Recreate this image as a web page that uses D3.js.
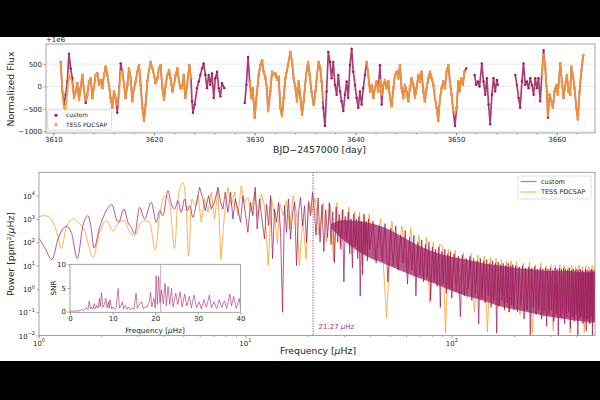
<!DOCTYPE html>
<html>
<head>
<meta charset="utf-8">
<script src="https://cdn.jsdelivr.net/npm/d3@7/dist/d3.min.js"></script>
<style>
	body { margin: 0; background: #000; }
	svg { display: block; font-family: "DejaVu Sans", sans-serif; }
</style>
</head>
<body>
<svg width="600" height="400"></svg>
<script>
// light curve, custom reduction (BJD-2457000, flux - 1e6 in ppm)
var lcTime = [
	3610.73,3610.89,3611.06,3611.22,3611.39,3611.55,3611.72,3611.88,3612.05,3612.22,3612.38,3612.55,3612.71,3612.88,3613.04,3613.21,3613.37,3613.54,3613.71,3613.87,
	3614.04,3614.20,3614.37,3614.53,3614.70,3614.86,3615.03,3615.20,3615.36,3615.53,3615.69,3615.86,3616.02,3616.19,3616.35,3616.52,3616.69,3616.85,3617.02,3617.18,
	3617.35,3617.51,3617.68,3617.84,3618.01,3618.18,3618.34,3618.51,3618.67,3618.84,3619.00,3619.17,3619.33,3619.50,3619.67,3619.83,3620.00,3620.16,3620.33,3620.49,
	3620.66,3620.82,3620.99,3621.16,3621.32,3621.49,3621.65,3621.82,3621.98,3622.15,3622.31,3622.48,3622.65,3622.78,3622.95,3623.11,3623.28,3623.51,3623.67,3623.77,
	3623.87,3624.04,3624.27,3624.44,3624.60,3624.77,3624.93,3625.10,3625.26,3625.43,3625.59,3625.76,3625.93,3626.09,3626.26,3626.42,3626.59,3626.75,3626.99,
	3629.01,3629.17,3629.34,3629.50,3629.67,3629.80,3630.00,3630.23,3630.40,3630.56,3630.73,3630.89,3631.06,3631.22,3631.32,3631.55,3631.72,3631.89,3632.05,3632.22,
	3632.38,3632.55,3632.71,3632.88,3633.04,3633.31,3633.54,3633.71,3633.87,3634.04,3634.20,3634.37,3634.54,3634.70,3634.87,3635.10,3635.30,3635.46,3635.63,3635.86,
	3636.03,3636.19,3636.36,3636.52,
	3636.65,3636.81,3636.98,3637.14,3637.31,3637.47,3637.64,3637.80,3637.97,3638.14,3638.30,3638.47,3638.63,3638.80,3638.96,3639.13,3639.29,3639.46,3639.63,3639.79,
	3639.96,3640.12,3640.29,3640.45,3640.62,3640.78,3640.95,3641.12,3641.28,3641.45,3641.61,3641.78,3641.94,3642.11,3642.27,3642.44,3642.61,3642.77,3642.94,3643.10,
	3643.27,3643.43,3643.60,3643.77,3643.93,3644.10,3644.26,3644.43,3644.59,3644.76,3644.92,3645.09,3645.25,3645.42,3645.59,3645.75,3645.92,3646.08,3646.25,3646.41,
	3646.58,3646.74,3646.91,3647.08,3647.24,3647.41,3647.57,3647.74,3647.90,3648.07,3648.23,3648.40,3648.57,3648.73,3648.90,3649.06,3649.23,3649.39,3649.56,3649.72,
	3649.89,3650.06,3650.22,3650.35,3650.51,3650.68,3650.84,3651.01,
	3651.84,3652.00,3652.17,3652.33,3652.56,3652.73,3652.90,3653.06,3653.23,3653.39,3653.56,3653.72,3653.89,3654.05,3654.15,
	3655.88,3656.04,3656.21,3656.37,3656.54,3656.70,3656.87,3657.03,3657.20,3657.37,3657.53,3657.70,3657.86,3658.03,3658.19,3658.36,3658.52,3658.69,3658.86,3659.02,
	3659.12,3659.29,3659.45,3659.62,3659.78,3659.95,3660.11,3660.35,3660.51,3660.68,3660.84,3661.01,3661.17,3661.34,3661.44,3661.60,3661.77,3661.94,3662.10,3662.27,
	3662.43,3662.63
];
var lcFlux = [
	550,-110,-404,-184,110,734,404,184,-257,-110,73,-294,-37,257,-73,-367,-184,110,184,-257,
	0,257,294,37,147,-37,257,440,257,0,-257,-477,-110,-257,-587,-110,514,330,37,-257,
	37,404,184,-330,-37,110,330,477,37,-477,-771,-404,110,367,550,404,257,73,184,404,
	477,-37,-294,37,257,367,184,-110,37,257,404,110,-37,-37,257,-257,37,477,184,-330,
	-587,-404,-37,110,257,404,514,257,-37,257,37,294,-257,184,330,-37,-220,73,-37,
	-367,37,661,110,-257,-37,-697,-110,257,477,587,330,184,-37,-550,-110,330,257,294,147,
	220,-477,-661,-257,184,477,771,550,184,-37,-330,110,-257,-624,-330,257,550,257,-110,-404,
	-110,257,550,404,
	110,-477,-881,-110,771,550,184,550,37,-184,257,-110,-330,-550,-184,110,-257,477,844,330,
	37,-257,-477,-110,-404,-37,257,550,257,-110,37,-257,-37,110,-110,477,-404,37,147,-37,
	110,-257,-440,-37,257,330,184,477,-37,-257,37,-110,-330,-37,184,37,-257,-37,257,110,
	330,-110,-330,-37,184,330,184,37,-257,-477,-771,-257,-37,110,-37,330,477,110,-184,-550,
	-881,-477,110,-110,184,37,330,404,
	257,37,110,0,514,110,-184,184,-404,-844,-184,184,-110,147,37,
	257,37,-257,-477,110,514,37,110,-37,184,37,-184,184,-37,184,-330,257,807,404,-110,
	-697,-184,-330,-477,-110,37,-184,514,110,-257,37,257,-110,-184,440,257,-37,-477,-734,-110,
	330,697
];

// light curve, TESS PDCSAP
var pdcTime = [
	3610.73,3610.89,3611.06,3611.22,3611.39,3611.55,3611.72,3611.88,3612.05,3612.22,3612.38,3612.55,3612.71,3612.88,3613.04,3613.21,3613.37,3613.54,3613.71,3613.87,
	3614.04,3614.20,3614.37,3614.53,3614.70,3614.86,3615.03,3615.20,3615.36,3615.53,3615.69,3615.86,3616.02,3616.19,3616.35,3616.52,3616.69,3616.85,3617.02,3617.18,
	3617.35,3617.51,3617.68,3617.84,3618.01,3618.18,3618.34,3618.51,3618.67,3618.84,3619.00,3619.17,3619.33,3619.50,3619.67,3619.83,3620.00,3620.16,3620.33,3620.49,
	3620.66,3620.82,3620.99,3621.16,3621.32,3621.49,3621.65,3621.82,3621.98,3622.15,3622.31,3622.48,3622.65,3622.78,3622.95,3623.11,3623.28,3623.51,3623.67,
	3629.50,3629.67,3629.80,3630.00,3630.23,3630.40,3630.56,3630.73,3630.89,3631.06,3631.22,3631.32,3631.55,3631.72,3631.89,3632.05,3632.22,3632.38,3632.55,3632.71,
	3632.88,3633.04,3633.31,3633.54,3633.71,3633.87,3634.04,3634.20,3634.37,3634.54,3634.70,3634.87,3635.10,3635.30,3635.46,3635.63,3635.86,3636.03,3636.19,3636.36,
	3636.52,3636.65,3636.81,
	3641.12,3641.28,3641.45,3641.61,3641.78,3641.94,3642.11,3642.27,3642.44,3642.61,3642.77,3642.94,3643.10,3643.27,3643.43,3643.60,3643.77,3643.93,3644.10,3644.26,
	3644.43,3644.59,3644.76,3644.92,3645.09,3645.25,3645.42,3645.59,3645.75,3645.92,3646.08,3646.25,3646.41,3646.58,3646.74,3646.91,3647.08,3647.24,3647.41,3647.57,
	3647.74,3647.90,3648.07,3648.23,3648.40,3648.57,3648.73,3648.90,3649.06,3649.23,3649.39,3649.56,3649.72,3649.89,3650.06,3650.22,3650.35,3650.51,3650.68,3650.84,
	3658.52,3658.69,3658.86,3659.02,3659.12,3659.29,3659.45,3659.62,3659.78,3659.95,3660.11,3660.35,3660.51,3660.68,3660.84,3661.01,3661.17,3661.34,3661.44,3661.60,
	3661.77,3661.94,3662.10,3662.27,3662.43,3662.63
];
var pdcFlux = [
	550,-110,-477,-550,-110,257,184,73,-257,-110,73,-294,-37,257,-73,-294,-184,110,184,-257,
	0,257,294,37,147,-37,257,440,257,0,-257,-477,-110,-257,-404,-110,330,330,37,-257,
	37,404,184,-330,-37,110,330,477,37,-477,-771,-404,110,367,550,404,257,73,184,404,
	477,-37,-294,37,257,367,184,-110,37,257,404,110,-37,-37,257,-257,37,477,184,
	110,-257,-37,-697,-110,257,477,587,330,184,-37,-550,-110,330,257,294,147,220,-477,-661,
	-257,184,477,771,550,184,-37,-330,110,-257,-624,-330,257,550,257,-110,-404,-110,257,550,
	404,110,-300,
	550,257,-110,37,-257,-37,110,-110,147,-184,37,147,-37,110,-257,-440,-37,257,330,184,
	477,-37,-257,37,-110,-330,-37,184,37,-257,-37,257,110,330,-110,-330,-37,184,330,184,
	37,-257,-477,-771,-257,-37,110,-37,330,477,110,-184,-550,-600,-477,110,-110,184,37,330,
	257,700,404,-110,-650,-184,-330,-477,-110,37,-184,514,110,-257,37,257,-110,-184,440,257,
	-37,-477,-734,-110,330,697
];

// power density spectrum, custom (uHz, ppm^2/uHz)
var psdFreq = [
	1.0,1.065,1.156,1.236,1.356,1.434,1.533,1.633,1.727,1.792,1.846,1.967,2.08,2.257,2.369,2.431,2.58,2.698,2.8,2.906,
	3.073,3.249,3.499,3.7,3.84,3.986,4.215,4.375,4.54,4.712,4.89,5.075,5.228,5.366,5.569,5.78,5.999,6.225,6.39,6.631,
	6.831,7.091,7.359,7.581,7.781,7.986,8.228,8.476,8.699,8.928,9.197,9.476,9.725,9.982,10.28,10.59,10.87,11.16,11.41,11.71,
	12.02,12.38,12.66,12.95,13.24,13.54,13.84,14.16,14.47,14.8,15.13,15.47,15.82,16.18,16.54,16.92,17.3,17.69,18.09,18.5,
	18.91,19.34,19.78,20.22,20.68,21.14,
	21.5,22,22.5,23,23.5,24,24.5,25,25.5,26,26.5,27,27.5,28,28.5,29,29.5,30,30.5,31,
	31.5,32,32.5,33,33.5,34,34.5,35,35.5,36,36.5,37,37.5,38,38.5,39,39.5,40,
	41.5,43,44.5,46,47.5,49,50.5,52,53.5,55,56.5,58,59.5,61,62.5,64,65.5,67,68.5,70,
	71.5,73,74.5,76,77.5,79,80.5,82,83.5,85,86.5,88,89.5,91,92.5,94,95.5,97,98.5,100,
	102.5,105,107.5,110,112.5,115,117.5,120,122.5,125,127.5,130,132.5,135,137.5,140,142.5,145,147.5,150,
	152.5,155,157.5,160,162.5,165,167.5,170,172.5,175,177.5,180,182.5,185,187.5,190,192.5,195,197.5,200,
	204,208,212,216,220,224,228,232,236,240,244,248,252,256,260,264,268,272,276,280,
	284,288,292,296,300,304,308,312,316,320,324,328,332,336,340,344,348,352,356,360,
	364,368,372,376,380,384,388,392,396,400,404,408,412,416,420,424,428,432,436,440,
	444,448,452,456,460,464,468,472,476,480,484,488,492,496
];
var psdPower = [
	147,60,18,138,481,266,20,514,1380,370,55,436,1630,4100,994,715,2670,715,436,226,
	3150,994,5150,715,2260,1380,16300,4370,2670,6090,1920,7180,2260,3710,1170,4370,22700,7180,2260,10000,
	2670,5150,22700,5150,2670,13900,1920,13900,994,7180,2670,715,10000,1920,266,5150,1380,22700,370,7180,
	994,138,4370,514,10000,20,2670,715,5150,266,0.1,3710,266,7180,138,1630,5150,10,1920,8460,
	514,3710,99,5150,1380,13900,
	3200,200,7900,100,4000,40,2500,160,5000,80,2000,13,3200,100,1600,50,2500,2,1260,100,
	2000,32,1000,8,1600,63,1000,20,1260,0.5,800,4,1600,32,800,16,1000,50,
	800,12.6,500,16,630,2,400,10,500,6.3,200,12.6,320,1.6,160,6.3,200,0.5,100,4,
	126,2,80,3.2,100,0.32,63,2,50,1.26,63,0.16,40,1.6,50,0.63,32,1,40,0.4,
	32,0.8,25,0.063,28,0.5,20,1,25,0.32,20,0.63,16,0.032,20,0.4,16,0.25,18,0.5,
	12.6,0.16,16,0.32,12.6,0.0126,14,0.2,11,0.32,12.6,0.126,10,0.25,12.6,0.1,10,0.2,11,0.126,
	10,0.1,8.9,0.2,10,0.05,7.9,0.126,8.9,0.01,7.9,0.16,8.9,0.08,7.1,0.126,7.9,0.05,7.1,0.1,
	7.9,0.025,7.1,0.08,7.9,0.126,6.3,0.04,7.9,0.08,7.1,0.01,7.9,0.063,7.1,0.1,7.9,0.032,7.1,0.063,
	6.3,0.1,7.9,0.02,6.3,0.063,7.1,0.04,6.3,0.08,7.1,0.01,6.3,0.05,7.1,0.063,6.3,0.032,5.6,0.05,
	7.1,0.016,6.3,0.05,5.6,0.032,6.3,0.063,7.1,0.01,6.3,0.04,5.6,0.05
];

// dense core of the custom spectrum at high frequency (envelope of the noise band)
var bandFreq = [26, 30, 38.6, 46.5, 56, 67.4, 81.1, 97.7, 117.7, 141.7, 170.6, 205.4, 247, 298, 359, 432, 494];
var bandTop = [600, 900, 700, 450, 200, 80, 40, 25, 18, 12.6, 10, 7.9, 7, 6, 6, 5.2, 5.2];
var bandBottom = [400, 120, 25, 12.6, 6.3, 3.2, 1.8, 0.9, 0.5, 0.32, 0.18, 0.126, 0.09, 0.063, 0.05, 0.04, 0.035];

// power density spectrum, TESS PDCSAP
var pdcPsdFreq = [
	1.0,1.046,1.106,1.169,1.227,1.283,1.356,1.461,1.545,1.664,1.826,1.967,2.119,2.282,2.459,2.599,2.748,2.906,3.073,3.249,
	3.435,3.659,3.84,4.091,4.294,4.54,4.712,4.982,5.17,5.306,5.507,5.715,5.888,6.111,6.343,6.583,6.831,7.091,7.359,7.609,
	7.931,8.228,8.54,8.862,9.197,9.545,9.907,10.28,10.67,11.08,11.5,11.93,12.38,12.9,13.39,13.9,14.3,14.68,15.23,15.81,
	16.4,17.02,17.67,18.27,18.98,19.7,20.22,20.99,
	21.75,22.75,23.75,24.75,25.75,26.75,27.75,28.75,29.75,30.75,31.75,32.75,33.75,34.75,35.75,36.75,37.75,38.75,39.75,
	42.25,45.25,48.25,51.25,54.25,57.25,60.25,63.25,66.25,69.25,72.25,75.25,78.25,81.25,84.25,87.25,90.25,93.25,96.25,99.25,
	103.75,108.75,113.75,118.75,123.75,128.75,133.75,138.75,143.75,148.75,153.75,158.75,163.75,168.75,173.75,178.75,183.75,188.75,193.75,198.75,
	206,214,222,230,238,246,254,262,270,278,286,294,302,310,318,326,334,342,350,358,
	366,374,382,390,398,406,414,422,430,438,446,454,462,470,478,486,494
];
var pdcPsdPower = [
	1170,1380,1290,715,226,55,436,994,715,312,22,266,840,312,760,840,266,190,605,840,
	715,47,1380,10000,4370,55,7180,37300,2670,25,7180,3710,10000,715,7180,1920,13900,994,16300,18,
	1920,22700,3710,13900,1380,26800,5150,8460,1920,13900,1170,11800,3710,10.5,7180,994,83,4370,1380,6090,
	370,10000,1920,10,994,19,6090,1920,
	7900,200,5000,100,4000,16,5000,80,2500,160,3200,32,2000,80,2000,10,1260,63,1600,
	20,1000,0.06,800,10,500,8,400,4,200,3.2,160,0.25,100,2,80,70,0.013,50,1,
	45,0.63,35,0.4,32,0.1,28,0.32,25,0.014,22,0.25,20,0.16,18,0.25,16,0.1,16,0.2,
	14,0.08,12.6,0.126,14,0.013,11,0.1,12.6,0.063,10,0.1,11,0.016,10,0.08,11,0.05,10,0.08,
	8.9,0.013,10,0.063,8.9,0.04,10,0.063,8.9,0.013,10,0.05,8.9,0.032,10,0.063,8.9
];

// signal-to-noise spectrum for the inset
var snrFreq = [
	0.0,0.8,1.6,2.3,2.7,3.1,3.5,3.9,4.2,4.5,4.8,5.1,5.4,5.7,6.0,6.3,6.6,6.9,7.1,7.4,
	7.7,8.0,8.4,8.7,9.0,9.2,9.4,9.8,10.1,10.5,10.8,11.3,11.6,12.0,12.3,12.6,13.0,13.4,13.7,14.1,
	14.5,15.0,15.5,15.8,16.2,16.8,17.2,17.6,18.1,18.6,18.9,19.2,19.7,20.0,20.2,20.5,20.8,21.1,21.5,21.9,
	22.3,22.6,23.0,23.4,23.8,24.2,24.8,25.3,25.8,26.3,26.9,27.4,28.0,28.5,29.1,29.7,30.3,30.8,31.4,32.0,
	32.7,33.2,33.8,34.4,35.0,35.6,36.2,36.8,37.5,37.9,38.4,39.0,39.7,40.0
];
var snrValue = [
	0.15,0.1,0.2,0.15,0.5,0.2,0.6,0.8,0.4,2.2,0.6,1.0,0.5,1.7,0.6,1.3,0.8,2.8,1.0,4.0,
	0.9,1.4,2.8,0.8,2.1,0.7,2.5,0.6,1.0,0.5,0.8,4.9,0.7,1.3,2.1,0.6,1.3,0.5,1.0,0.4,
	0.8,0.5,3.9,0.7,1.4,2.1,0.6,1.0,1.0,2.1,4.1,1.0,2.8,0.8,7.6,1.5,7.4,1.8,4.6,1.6,
	6.0,1.2,5.3,1.5,4.9,1.0,3.9,1.5,4.2,1.0,3.7,1.2,3.2,0.8,3.5,0.8,2.1,0.6,2.5,0.9,
	3.5,0.8,2.1,0.6,2.5,0.9,2.3,0.7,3.7,1.2,3.2,0.7,2.8,1.0
];

var numaxFreq = 21.27;
var timeTicks = [3610, 3620, 3630, 3640, 3650, 3660];
var fluxTicks = [-1000, -500, 0, 500];
var freqExpTicks = [0, 1, 2];
var powerExpTicks = [-2, -1, 0, 1, 2, 3, 4];
var snrTicks = [0, 5, 10];
var snrFreqTicks = [0, 10, 20, 30, 40];
var seriesNames = ["custom", "TESS PDCSAP"];

var purple = "#9b1b5e", orange = "#fb9f2c", spine = "#8c8c8c", ink = "#262626";

var svg = d3.select("svg");
svg.append("rect").attr("width", 600).attr("height", 400).attr("fill", "#000");
svg.append("rect").attr("y", 37).attr("width", 600).attr("height", 324).attr("fill", "#fff");
var defs = svg.append("defs");

function clip(id, b) {
	defs.append("clipPath").attr("id", id).append("rect")
		.attr("x", b.x).attr("y", b.y).attr("width", b.w).attr("height", b.h);
}

function split(ts, vs, gap) {
	var out = [], cur = [];
	for (var i = 0; i < ts.length; i++) {
		if (i > 0 && ts[i] - ts[i-1] > gap) { out.push(cur); cur = []; }
		cur.push([ts[i], vs[i]]);
	}
	out.push(cur);
	return out;
}

function tidy(g, size) {
	g.attr("font-family", null).attr("font-size", null);
	g.select(".domain").remove();
	g.selectAll(".tick line").attr("stroke", spine).attr("stroke-width", 0.8);
	g.selectAll(".tick text").attr("fill", ink).style("font-size", size + "px");
}

function powLabel(g, x, y, exp, anchor) {
	var t = g.append("text").attr("x", x).attr("y", y).attr("text-anchor", anchor)
		.attr("fill", ink).style("font-size", "7px");
	t.append("tspan").text("10");
	t.append("tspan").attr("dy", -3.2).style("font-size", "5px").text(exp < 0 ? "\u2212" + (-exp) : exp);
}

// ---------- light curve panel
var lcBox = {x: 46, y: 44, w: 549, h: 89};
var xT = d3.scaleLinear().domain([3609.27, 3663.8]).range([lcBox.x, lcBox.x + lcBox.w]);
var yT = d3.scaleLinear().domain([-1040, 950]).range([lcBox.y + lcBox.h, lcBox.y]);
clip("clipLc", lcBox);

svg.append("g").selectAll("line").data(fluxTicks).enter().append("line")
	.attr("x1", lcBox.x).attr("x2", lcBox.x + lcBox.w)
	.attr("y1", function(d) { return yT(d); }).attr("y2", function(d) { return yT(d); })
	.attr("stroke", "#e4e4e4").attr("stroke-width", 0.8);

var lcLine = d3.line().x(function(d) { return xT(d[0]); }).y(function(d) { return yT(d[1]); });
var lcLayer = svg.append("g").attr("clip-path", "url(#clipLc)");
[[lcTime, lcFlux, purple], [pdcTime, pdcFlux, orange]].forEach(function(s) {
	var g = lcLayer.append("g");
	split(s[0], s[1], 0.5).forEach(function(seg) {
		g.append("path").attr("d", lcLine(seg)).attr("fill", "none")
			.attr("stroke", s[2]).attr("stroke-width", 1.7).attr("stroke-linejoin", "round").attr("opacity", 0.85);
		g.selectAll(null).data(seg).enter().append("circle")
			.attr("cx", function(d) { return xT(d[0]); }).attr("cy", function(d) { return yT(d[1]); })
			.attr("r", 1.2).attr("fill", s[2]);
	});
});

svg.append("rect").attr("x", lcBox.x).attr("y", lcBox.y).attr("width", lcBox.w).attr("height", lcBox.h)
	.attr("fill", "none").attr("stroke", spine).attr("stroke-width", 0.8);

tidy(svg.append("g").attr("transform", "translate(0," + (lcBox.y + lcBox.h) + ")")
	.call(d3.axisBottom(xT).tickValues(d3.range(3610, 3664, 2)).tickSize(1.5).tickFormat("")), 7);
tidy(svg.append("g").attr("transform", "translate(0," + (lcBox.y + lcBox.h) + ")")
	.call(d3.axisBottom(xT).tickValues(timeTicks).tickSize(2.5).tickPadding(1.5).tickFormat(d3.format("d"))), 7);
tidy(svg.append("g").attr("transform", "translate(" + lcBox.x + ",0)")
	.call(d3.axisLeft(yT).tickValues(fluxTicks).tickSize(2.5).tickPadding(1.5)
		.tickFormat(function(d) { return d < 0 ? "\u2212" + (-d) : d; })), 7);

svg.append("text").attr("x", lcBox.x).attr("y", 41.5).attr("fill", ink).style("font-size", "7px").text("+1e6");
svg.append("text").attr("transform", "translate(14,89) rotate(-90)").attr("text-anchor", "middle")
	.attr("fill", ink).style("font-size", "9.3px").text("Normalized Flux");
svg.append("text").attr("x", 319.5).attr("y", 153).attr("text-anchor", "middle")
	.attr("fill", ink).style("font-size", "9.3px").text("BJD\u22122457000 [day]");

var lgTop = svg.append("g");
lgTop.append("rect").attr("x", 47.5).attr("y", 110).attr("width", 64).attr("height", 20).attr("rx", 2)
	.attr("fill", "#fff").attr("fill-opacity", 0.85).attr("stroke", "#d0d0d0").attr("stroke-width", 0.7);
[purple, orange].forEach(function(c, i) {
	lgTop.append("circle").attr("cx", 56).attr("cy", 115.3 + i * 9.4).attr("r", 1.6).attr("fill", c);
	lgTop.append("text").attr("x", 66).attr("y", 117.4 + i * 9.4).attr("fill", ink).style("font-size", "6px").text(seriesNames[i]);
});

// ---------- power spectrum panel
var psBox = {x: 39, y: 172.3, w: 556, h: 163.2};
var xB = d3.scaleLog().domain([1, 494]).range([psBox.x, psBox.x + psBox.w]);
var yB = d3.scaleLog().domain([0.01, 1e5]).range([psBox.y + psBox.h, psBox.y]);
clip("clipPs", psBox);

var psSmooth = d3.line().curve(d3.curveMonotoneX)
	.x(function(d) { return xB(d[0]); }).y(function(d) { return yB(d[1]); });
var psSharp = d3.line().x(function(d) { return xB(d[0]); }).y(function(d) { return yB(d[1]); });
var psLayer = svg.append("g").attr("clip-path", "url(#clipPs)");

function drawSpectrum(freqs, powers, color, opacity) {
	var pts = d3.zip(freqs, powers);
	var low = pts.filter(function(d) { return d[0] <= 6; });
	var high = pts.filter(function(d) { return d[0] >= low[low.length - 1][0]; });
	psLayer.append("path").attr("d", psSmooth(low)).attr("fill", "none")
		.attr("stroke", color).attr("stroke-width", 1).attr("opacity", opacity);
	psLayer.append("path").attr("d", psSharp(high)).attr("fill", "none")
		.attr("stroke", color).attr("stroke-width", 1).attr("stroke-linejoin", "bevel").attr("opacity", opacity);
}
drawSpectrum(pdcPsdFreq, pdcPsdPower, orange, 0.8);
psLayer.append("path")
	.attr("d", d3.area().curve(d3.curveMonotoneX).x(function(d) { return xB(d[0]); })
		.y0(function(d) { return yB(d[2]); }).y1(function(d) { return yB(d[1]); })(d3.zip(bandFreq, bandTop, bandBottom)))
	.attr("fill", purple).attr("opacity", 0.72);
drawSpectrum(psdFreq, psdPower, purple, 0.72);

svg.append("line").attr("x1", xB(numaxFreq)).attr("x2", xB(numaxFreq))
	.attr("y1", psBox.y).attr("y2", psBox.y + psBox.h)
	.attr("stroke", "#a8306f").attr("stroke-width", 1).attr("stroke-dasharray", "1.2,1.4");
var nuText = svg.append("text").attr("x", xB(numaxFreq) + 5.5).attr("y", 328.5)
	.attr("fill", "#a8306f").style("font-size", "7px");
nuText.append("tspan").text(numaxFreq.toFixed(2) + " ");
nuText.append("tspan").style("font-style", "italic").text("\u03bc");
nuText.append("tspan").text("Hz");

svg.append("rect").attr("x", psBox.x).attr("y", psBox.y).attr("width", psBox.w).attr("height", psBox.h)
	.attr("fill", "none").attr("stroke", spine).attr("stroke-width", 0.8);

var minorFreq = [2,3,4,5,6,7,8,9,20,30,40,50,60,70,80,90,200,300,400];
tidy(svg.append("g").attr("transform", "translate(0," + (psBox.y + psBox.h) + ")")
	.call(d3.axisBottom(xB).tickValues(minorFreq).tickSize(1.5).tickFormat("")), 7);
tidy(svg.append("g").attr("transform", "translate(0," + (psBox.y + psBox.h) + ")")
	.call(d3.axisBottom(xB).tickValues(freqExpTicks.map(function(e) { return Math.pow(10, e); })).tickSize(2.5).tickFormat("")), 7);
tidy(svg.append("g").attr("transform", "translate(" + psBox.x + ",0)")
	.call(d3.axisLeft(yB).tickValues(powerExpTicks.map(function(e) { return Math.pow(10, e); })).tickSize(2.5).tickFormat("")), 7);

var labs = svg.append("g");
freqExpTicks.forEach(function(e) { powLabel(labs, xB(Math.pow(10, e)), 345.5, e, "middle"); });
powerExpTicks.forEach(function(e) { powLabel(labs, 35, yB(Math.pow(10, e)) + 3, e, "end"); });

var yLab = svg.append("text").attr("transform", "translate(14,254) rotate(-90)").attr("text-anchor", "middle")
	.attr("fill", ink).style("font-size", "9.3px");
yLab.append("tspan").text("Power [ppm\u00b2/");
yLab.append("tspan").style("font-style", "italic").text("\u03bc");
yLab.append("tspan").text("Hz]");
function freqLabel(x, y, size) {
	var t = svg.append("text").attr("x", x).attr("y", y).attr("text-anchor", "middle")
		.attr("fill", ink).style("font-size", size + "px");
	t.append("tspan").text("Frequency [");
	t.append("tspan").style("font-style", "italic").text("\u03bc");
	t.append("tspan").text("Hz]");
}
freqLabel(318, 354, 9.3);

var lgBot = svg.append("g");
lgBot.append("rect").attr("x", 518).attr("y", 176).attr("width", 73).attr("height", 23).attr("rx", 2)
	.attr("fill", "#fff").attr("fill-opacity", 0.85).attr("stroke", "#d0d0d0").attr("stroke-width", 0.7);
[[purple, 0.6], [orange, 0.75]].forEach(function(c, i) {
	lgBot.append("line").attr("x1", 520.5).attr("x2", 536.5).attr("y1", 181.5 + i * 10.5).attr("y2", 181.5 + i * 10.5)
		.attr("stroke", c[0]).attr("stroke-width", 1.2).attr("opacity", c[1]);
	lgBot.append("text").attr("x", 541).attr("y", 183.8 + i * 10.5).attr("fill", ink).style("font-size", "6.5px").text(seriesNames[i]);
});

// ---------- SNR inset
var inBox = {x: 70, y: 264.3, w: 170.5, h: 48};
var xI = d3.scaleLinear().domain([0, 40]).range([inBox.x, inBox.x + inBox.w]);
var yI = d3.scaleLinear().domain([-0.13, 10]).range([inBox.y + inBox.h, inBox.y]);
clip("clipIn", inBox);
svg.append("rect").attr("x", inBox.x).attr("y", inBox.y).attr("width", inBox.w).attr("height", inBox.h).attr("fill", "#fff");
var inLayer = svg.append("g").attr("clip-path", "url(#clipIn)");
inLayer.append("line").attr("x1", xI(numaxFreq)).attr("x2", xI(numaxFreq)).attr("y1", inBox.y).attr("y2", inBox.y + inBox.h)
	.attr("stroke", "#dba3c3").attr("stroke-width", 1);
inLayer.append("path").attr("d", d3.line().x(function(d) { return xI(d[0]); }).y(function(d) { return yI(d[1]); })(d3.zip(snrFreq, snrValue)))
	.attr("fill", "none").attr("stroke", "#a8306f").attr("stroke-width", 0.9).attr("opacity", 0.7);
svg.append("rect").attr("x", inBox.x).attr("y", inBox.y).attr("width", inBox.w).attr("height", inBox.h)
	.attr("fill", "none").attr("stroke", spine).attr("stroke-width", 0.8);
tidy(svg.append("g").attr("transform", "translate(0," + (inBox.y + inBox.h) + ")")
	.call(d3.axisBottom(xI).tickValues(snrFreqTicks).tickSize(2.5).tickPadding(1.5)), 7);
tidy(svg.append("g").attr("transform", "translate(" + inBox.x + ",0)")
	.call(d3.axisLeft(yI).tickValues(snrTicks).tickSize(2.5).tickPadding(1.5)), 7);
freqLabel(155, 332.5, 7.3);
svg.append("text").attr("transform", "translate(56,288) rotate(-90)").attr("text-anchor", "middle")
	.attr("fill", ink).style("font-size", "7.2px").text("SNR");
</script>
</body>
</html>
